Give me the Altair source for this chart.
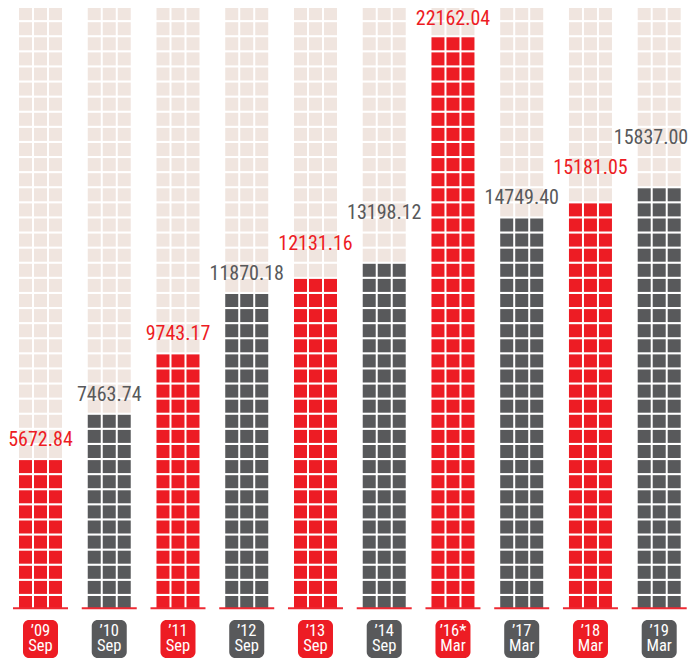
import altair as alt
import pandas as pd

# ---- data ----
years = ["’09", "’10", "’11", "’12", "’13", "’14", "’16*", "’17", "’18", "’19"]
periods = ["Sep", "Sep", "Sep", "Sep", "Sep", "Sep", "Mar", "Mar", "Mar", "Mar"]
values = [5672.84, 7463.74, 9743.17, 11870.18, 12131.16, 13198.12,
          22162.04, 14749.40, 15181.05, 15837.00]
filled_rows = [10, 13, 17, 21, 22, 23, 38, 26, 27, 28]
label_lift = [0, 0, 0, 0, 1, 2, 0, 0, 1, 2]
highlight = [True, False, True, False, True, False, True, False, True, False]

TOTAL_ROWS = 40
CELLS_PER_ROW = 3

# ---- layout constants (in cell units) ----
COL_STEP = 4.583
CELL_W = 13 / 15
CELL_H = 13 / 15.1
FONT = "Liberation Sans Narrow, Roboto Condensed, Arial Narrow, sans-serif"
RED = "#ed1c24"
GRAY = "#58595b"
BG = "#f0e5df"
W = 681
H = 651
X0 = -11 / 15
LABEL_MAX_X = X0 + (W - 38) / 15  # keep the widest label inside the page

cells = []
for i in range(len(values)):
    for r in range(TOTAL_ROWS):
        for s in range(CELLS_PER_ROW):
            if r < filled_rows[i]:
                state = "red" if highlight[i] else "gray"
            else:
                state = "bg"
            x = i * COL_STEP + s
            cells.append({"x": x, "x2": x + CELL_W, "y": r, "y2": r + CELL_H, "state": state})
cells_df = pd.DataFrame(cells)

cols = []
for i in range(len(values)):
    left = i * COL_STEP
    right = left + (CELLS_PER_ROW - 1) + CELL_W
    center = (left + right) / 2
    cols.append({
        "center": center,
        "label_x": min(center, LABEL_MAX_X),
        "bl": left - 0.4, "br": right + 0.4,
        "badge_l": center - 1.167, "badge_r": center + 1.167,
        "base_y": 0.05,
        "label_y": min(filled_rows[i] + label_lift[i] + 0.8, 38.7),
        "label": f"{values[i]:.2f}",
        "year": years[i], "period": periods[i],
        "kind": "red" if highlight[i] else "gray",
    })
cols_df = pd.DataFrame(cols)

xs = alt.Scale(domain=[X0, X0 + W / 15], nice=False, zero=False)
ys = alt.Scale(domain=[-50 / 15.1, -50 / 15.1 + H / 15.1], nice=False, zero=False)
kind_color = alt.Scale(domain=["red", "gray"], range=[RED, GRAY])

cell_layer = alt.Chart(cells_df).mark_rect().encode(
    x=alt.X("x:Q", scale=xs, axis=None),
    x2="x2:Q",
    y=alt.Y("y:Q", scale=ys, axis=None),
    y2="y2:Q",
    color=alt.Color("state:N", scale=alt.Scale(domain=["bg", "red", "gray"], range=[BG, RED, GRAY]), legend=None),
)

base = alt.Chart(cols_df)

baseline = base.mark_rule(strokeWidth=2, color="#ee2a33").encode(
    x=alt.X("bl:Q", scale=xs, axis=None),
    x2="br:Q",
    y=alt.Y("base_y:Q", scale=ys, axis=None),
)

value_labels = base.mark_text(font=FONT, fontSize=20, baseline="alphabetic", align="center").encode(
    x=alt.X("label_x:Q", scale=xs, axis=None),
    y=alt.Y("label_y:Q", scale=ys, axis=None),
    text="label:N",
    color=alt.Color("kind:N", scale=kind_color, legend=None),
)

badges = base.mark_rect(cornerRadius=6).encode(
    x=alt.X("badge_l:Q", scale=xs, axis=None),
    x2="badge_r:Q",
    y=alt.value(612),
    y2=alt.value(650),
    color=alt.Color("kind:N", scale=kind_color, legend=None),
)

year_text = base.mark_text(font=FONT, fontSize=16.5, fontWeight="normal", color="white",
                           baseline="alphabetic", align="center").encode(
    x=alt.X("center:Q", scale=xs, axis=None),
    y=alt.value(628),
    text="year:N",
)

period_text = base.mark_text(font=FONT, fontSize=16.5, fontWeight="normal", color="white",
                             baseline="alphabetic", align="center").encode(
    x=alt.X("center:Q", scale=xs, axis=None),
    y=alt.value(642.5),
    text="period:N",
)

chart = alt.layer(cell_layer, baseline, value_labels, badges, year_text, period_text).properties(
    width=W, height=H, padding=0, autosize=alt.AutoSizeParams(type="none")
).configure_view(stroke=None).resolve_scale(color="independent")

chart.save("out.html", embed_options={"renderer": "svg", "actions": False})
